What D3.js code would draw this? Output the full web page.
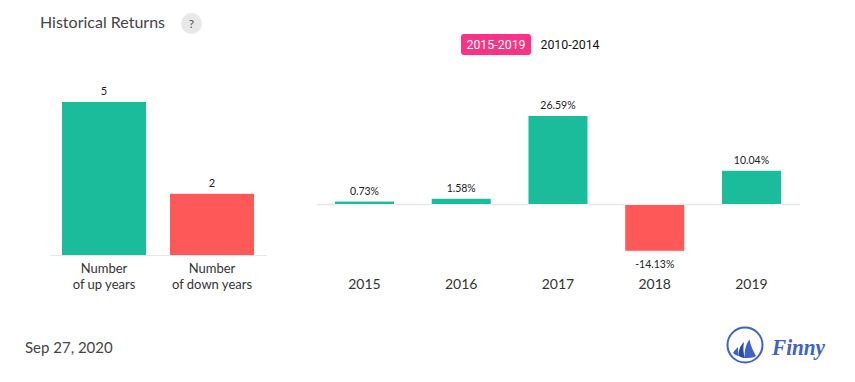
<!DOCTYPE html>
<html>
<head>
<meta charset="utf-8">
<script src="https://cdn.jsdelivr.net/npm/d3@7"></script>
<style>
  html, body { margin: 0; padding: 0; background: #fff; }
  svg { display: block; font-family: Lato, sans-serif; }
</style>
</head>
<body>
<svg id="chart" width="855" height="382"></svg>
<script>
// counts of up / down years
const countLabels = [["Number", "of up years"], ["Number", "of down years"]];
const countValues = [5, 2];

// yearly returns, percent
const years = ["2015", "2016", "2017", "2018", "2019"];
const returns = [0.73, 1.58, 26.59, -14.13, 10.04];

const periods = ["2015-2019", "2010-2014"];

const GREEN = "#1abc9c";
const RED = "#ff5858";
const AXIS = "#e6e6e6";
const BLUE = "#3f62c4";

const svg = d3.select("#chart");

// header
svg.append("text").attr("x", 40).attr("y", 28)
  .attr("font-size", 16).attr("fill", "#444").text("Historical Returns");
svg.append("circle").attr("cx", 191.5).attr("cy", 23.5).attr("r", 10.5).attr("fill", "#e8e8e8");
svg.append("text").attr("x", 191.5).attr("y", 28).attr("text-anchor", "middle")
  .attr("font-size", 12).attr("fill", "#555").text("?");

// period toggle
svg.append("rect").attr("x", 461).attr("y", 34).attr("width", 70).attr("height", 21)
  .attr("rx", 3).attr("fill", "#fb3385");
svg.selectAll("text.period")
  .data(periods)
  .join("text")
  .attr("class", "period")
  .attr("x", (d, i) => i === 0 ? 496 : 570)
  .attr("y", 49)
  .attr("text-anchor", "middle")
  .attr("font-family", "Roboto, sans-serif")
  .attr("font-size", 12.4)
  .attr("fill", (d, i) => i === 0 ? "#fff" : "#111")
  .text(d => d);

// left chart
const xCount = d3.scaleBand().domain(d3.range(countValues.length)).range([50, 266])
  .paddingInner(0.222).paddingOuter(0.111);
const yCount = d3.scaleLinear().domain([0, 5]).range([255, 102]);

svg.append("g").selectAll("rect")
  .data(countValues)
  .join("rect")
  .attr("x", (d, i) => xCount(i))
  .attr("y", d => yCount(d))
  .attr("width", xCount.bandwidth())
  .attr("height", d => yCount(0) - yCount(d))
  .attr("fill", (d, i) => i === 0 ? GREEN : RED);

svg.append("line").attr("x1", 50).attr("x2", 267)
  .attr("y1", yCount(0) + 0.5).attr("y2", yCount(0) + 0.5).attr("stroke", AXIS);

svg.append("g").selectAll("text")
  .data(countValues)
  .join("text")
  .attr("x", (d, i) => xCount(i) + xCount.bandwidth() / 2)
  .attr("y", d => yCount(d) - 7)
  .attr("text-anchor", "middle")
  .attr("font-size", 11).attr("fill", "#222")
  .text(d => d);

const countText = svg.append("g").selectAll("text")
  .data(countLabels)
  .join("text")
  .attr("text-anchor", "middle")
  .attr("font-size", 13).attr("fill", "#333");
countText.selectAll("tspan")
  .data((d, i) => d.map(s => ({ s, i })))
  .join("tspan")
  .attr("x", d => xCount(d.i) + xCount.bandwidth() / 2)
  .attr("y", (d, j) => 273 + j * 16)
  .text(d => d.s);

// right chart
const xYear = d3.scaleBand().domain(years).range([316.1, 799.85])
  .paddingInner(0.39).paddingOuter(0.195);
const yRet = d3.scaleLinear().domain([0, 26.59]).range([204, 116]);

svg.append("line").attr("x1", 317).attr("x2", 800)
  .attr("y1", yRet(0) + 0.5).attr("y2", yRet(0) + 0.5).attr("stroke", AXIS).attr("stroke-width", 1.5);

svg.append("g").selectAll("rect")
  .data(returns)
  .join("rect")
  .attr("x", (d, i) => xYear(years[i]))
  .attr("y", d => d >= 0 ? yRet(d) : yRet(0) + 1)
  .attr("width", xYear.bandwidth())
  .attr("height", d => d >= 0 ? yRet(0) - yRet(d) : yRet(d) - yRet(0) - 1)
  .attr("fill", d => d >= 0 ? GREEN : RED)
  .attr("stroke", "#fff").attr("stroke-width", 1)
  .attr("paint-order", "stroke");

svg.append("g").selectAll("text")
  .data(returns)
  .join("text")
  .attr("x", (d, i) => xYear(years[i]) + xYear.bandwidth() / 2)
  .attr("y", d => d >= 0 ? yRet(d) - 7 : yRet(d) + 17)
  .attr("text-anchor", "middle")
  .attr("font-size", 10.5).attr("fill", "#222")
  .text(d => d.toFixed(2) + "%");

svg.append("g").selectAll("text")
  .data(years)
  .join("text")
  .attr("x", d => xYear(d) + xYear.bandwidth() / 2)
  .attr("y", 289)
  .attr("text-anchor", "middle")
  .attr("font-size", 14).attr("fill", "#333")
  .text(d => d);

// footer
svg.append("text").attr("x", 25).attr("y", 353)
  .attr("font-size", 15).attr("fill", "#444").text("Sep 27, 2020");

// logo
const logo = svg.append("g").attr("transform", "translate(745,345)");
logo.append("circle").attr("r", 17.5).attr("fill", "none").attr("stroke", BLUE).attr("stroke-width", 2);
logo.append("path").attr("fill", BLUE).attr("d", "M4.5,-5.5 C1,-1 -1,6 0,13 C4,13 8,13 11,11 C8,6 5.5,0 4.5,-5.5Z");
logo.append("path").attr("fill", "#2a4aa8").attr("d", "M-1,-3 C-5,1 -7,6 -6,11 C-4,12.5 -2,13 0,13 C-2,8 -2,2 -1,-3Z");
logo.append("path").attr("fill", BLUE).attr("d", "M-7,2 C-9,4 -11,6 -12,8 C-10,10 -8,11 -6,11 C-7,8 -7,5 -7,2Z");
svg.append("text").attr("x", 772).attr("y", 355)
  .attr("font-family", "'Liberation Serif', serif").attr("font-style", "italic").attr("font-weight", 700)
  .attr("font-size", 23).attr("textLength", 53).attr("lengthAdjust", "spacingAndGlyphs")
  .attr("fill", BLUE).text("Finny");
</script>
</body>
</html>
